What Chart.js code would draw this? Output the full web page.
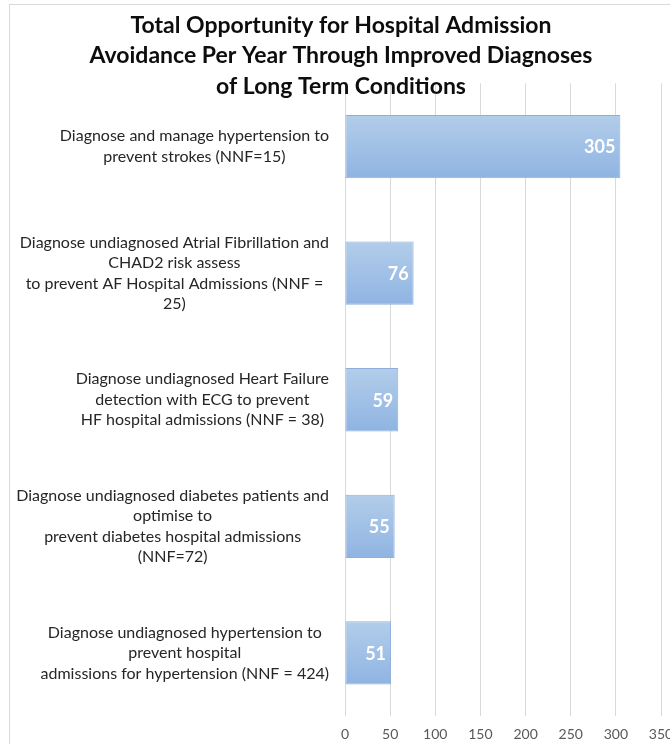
<!DOCTYPE html>
<html>
<head>
<meta charset="utf-8">
<script src="https://cdn.jsdelivr.net/npm/chart.js@4"></script>
<style>
  html, body { margin: 0; padding: 0; background: #fff; overflow: hidden; width: 670px; height: 744px; }
  #frame { position: absolute; left: 9px; top: 4px; width: 720px; height: 770px; border: 1px solid #d9d9d9; background: #fff; }
  #c { position: absolute; left: 0; top: 0; }
</style>
</head>
<body>
<div id="frame"><canvas id="c" width="700" height="757"></canvas></div>
<script>
const titleLines = [
  "Total Opportunity for Hospital Admission",
  "Avoidance Per Year Through Improved Diagnoses",
  "of Long Term Conditions"
];
const categories = [
  ["Diagnose and manage hypertension to", "prevent strokes (NNF=15)"],
  ["Diagnose undiagnosed Atrial Fibrillation and", "CHAD2 risk assess", "to prevent AF Hospital Admissions (NNF =", "25)"],
  ["Diagnose undiagnosed Heart Failure", "detection with ECG to prevent", "HF hospital admissions (NNF = 38)"],
  ["Diagnose undiagnosed diabetes patients and", "optimise to", "prevent diabetes hospital admissions", "(NNF=72)"],
  ["Diagnose undiagnosed hypertension to", "prevent hospital", "admissions for hypertension (NNF = 424)"]
];
const values = [305, 76, 59, 55, 51];
const xMin = 0, xMax = 350, xStep = 50;

const FONT = "Lato, 'Open Sans', sans-serif";

const labelPlugin = {
  id: 'blockLabels',
  afterDraw(chart) {
    const ctx = chart.ctx;
    const ys = chart.scales.y;
    const right = chart.chartArea.left - 16;
    const lh = 20.5;
    ctx.save();
    ctx.font = "16px " + FONT;
    ctx.fillStyle = "#262626";
    ctx.textAlign = "center";
    ctx.textBaseline = "middle";
    categories.forEach((lines, i) => {
      const w = Math.max(...lines.map(l => ctx.measureText(l).width));
      const cx = right - w / 2;
      const cy = ys.getPixelForTick(i);
      const y0 = cy - (lines.length - 1) * lh / 2;
      lines.forEach((l, k) => ctx.fillText(l, cx, y0 + k * lh));
    });
    const meta = chart.getDatasetMeta(0);
    ctx.font = "bold 18px " + FONT;
    ctx.fillStyle = "#ffffff";
    ctx.textAlign = "right";
    meta.data.forEach((bar, i) => {
      ctx.fillText(String(values[i]), bar.x - 5, bar.y + 1);
    });
    ctx.restore();
  }
};

function barGradient(context) {
  const chart = context.chart;
  const ys = chart.scales && chart.scales.y;
  if (!ys || context.dataIndex === undefined) return "#a3c1e8";
  const cy = ys.getPixelForTick(context.dataIndex);
  const half = (ys.height / categories.length) * 0.25;
  if (!isFinite(cy) || !isFinite(half) || half <= 0) return "#a3c1e8";
  const g = chart.ctx.createLinearGradient(0, cy - half, 0, cy + half);
  g.addColorStop(0, "#b3cdea");
  g.addColorStop(1, "#8fb4e2");
  return g;
}

new Chart(document.getElementById('c'), {
  type: 'bar',
  data: {
    labels: categories,
    datasets: [{
      data: values,
      backgroundColor: barGradient,
      borderColor: "#8eaedb",
      borderWidth: 1,
      borderSkipped: false,
      categoryPercentage: 0.5,
      barPercentage: 1.0
    }]
  },
  plugins: [labelPlugin],
  options: {
    indexAxis: 'y',
    responsive: false,
    animation: false,
    layout: { padding: { left: 11, right: 49, top: 0, bottom: 9 } },
    plugins: {
      legend: { display: false },
      tooltip: { enabled: false },
      title: {
        display: true,
        text: titleLines,
        color: "#0d0d0d",
        font: { family: FONT, size: 23, weight: 'bold', lineHeight: 1.33 },
        padding: { top: 5, bottom: -18.5 }
      }
    },
    scales: {
      x: {
        min: xMin, max: xMax,
        ticks: { stepSize: xStep, color: "#595959", font: { family: FONT, size: 14 }, padding: 10 },
        grid: { color: "#d9d9d9", drawTicks: false },
        border: { display: false }
      },
      y: {
        ticks: { display: false },
        grid: { display: false },
        border: { display: false },
        afterFit(scale) { scale.width = 324; }
      }
    }
  }
});
</script>
</body>
</html>
